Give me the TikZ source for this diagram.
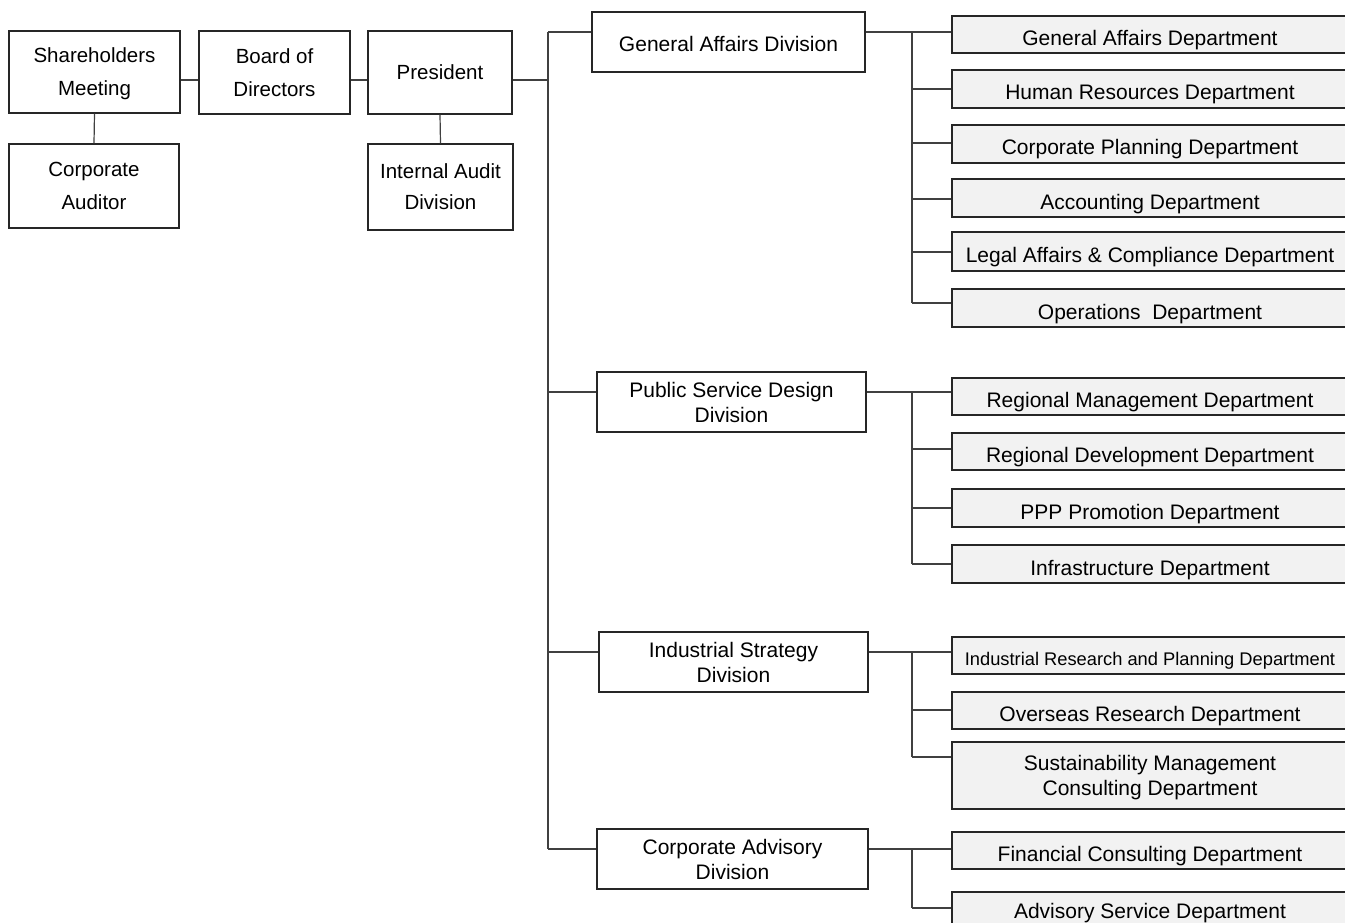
\documentclass[tikz,border=0pt]{standalone}
\usepackage{fontspec}
\setmainfont{Liberation Sans}
\begin{document}
\begin{tikzpicture}[x=1pt,y=-1pt,
  conn/.style={draw=black!75,line width=1.2pt},
  basebox/.style={draw=black!85,line width=1.2pt,rectangle,inner sep=0pt,align=center,text=black,text depth=0pt},
  topbox/.style={basebox,fill=white,font=\fontsize{20.5}{33}\selectfont},
  divbox/.style={basebox,fill=white,font=\fontsize{21}{25}\selectfont},
  deptbox/.style={basebox,fill=black!5,minimum width=396pt,font=\fontsize{21}{25}\selectfont},
  oneline/.style={text height=22pt}]
\clip (0,0) rectangle (1345,923);
\fill[white] (0,0) rectangle (1345,923);
% top level
\node[topbox,minimum width=171pt,minimum height=82pt] (sh) at (94.5,72) {Shareholders\\Meeting};
\node[topbox,minimum width=151pt,minimum height=83pt] (bod) at (274.5,72.5) {Board of\\Directors};
\node[topbox,minimum width=144pt,minimum height=83pt] (pres) at (440,72.5) {President};
\node[topbox,minimum width=170pt,minimum height=84pt] (cau) at (94,186) {Corporate\\Auditor};
\node[topbox,minimum width=145pt,minimum height=86pt,font=\fontsize{20.5}{31}\selectfont] (ia) at (440.5,187) {Internal Audit\\Division};
% divisions
\node[divbox,minimum width=273pt,minimum height=60pt,text height=19pt] (gadiv) at (728.5,42) {General Affairs Division};
\node[divbox,minimum width=269pt,minimum height=60pt] (psdiv) at (731.5,402) {Public Service Design\\Division};
\node[divbox,minimum width=269pt,minimum height=60pt] (isdiv) at (733.5,662) {Industrial Strategy\\Division};
\node[divbox,minimum width=271pt,minimum height=60pt] (cadiv) at (732.5,859) {Corporate Advisory\\Division};
% departments
\node[deptbox,oneline,minimum height=37pt] (d1) at (1150,34.5) {General Affairs Department};
\node[deptbox,oneline,minimum height=38pt] (d2) at (1150,89) {Human Resources Department};
\node[deptbox,oneline,minimum height=38pt] (d3) at (1150,144) {Corporate Planning Department};
\node[deptbox,oneline,minimum height=38pt] (d4) at (1150,198) {Accounting Department};
\node[deptbox,oneline,minimum height=39pt] (d5) at (1150,251.5) {Legal Affairs \& Compliance Department};
\node[deptbox,oneline,minimum height=38pt] (d6) at (1150,308) {Operations\ \ Department};
\node[deptbox,oneline,minimum height=37pt] (p1) at (1150,396.5) {Regional Management Department};
\node[deptbox,oneline,minimum height=37pt] (p2) at (1150,451.5) {Regional Development Department};
\node[deptbox,oneline,minimum height=38pt] (p3) at (1150,508) {PPP Promotion Department};
\node[deptbox,oneline,minimum height=38pt] (p4) at (1150,564) {Infrastructure Department};
\node[deptbox,minimum height=37pt,font=\fontsize{18.3}{22}\selectfont,text height=19pt] (i1) at (1150,655.5) {Industrial Research and Planning Department};
\node[deptbox,oneline,minimum height=37pt] (i2) at (1150,710.5) {Overseas Research Department};
\node[deptbox,minimum height=67pt] (i3) at (1150,775.5) {Sustainability Management\\Consulting Department};
\node[deptbox,oneline,minimum height=37pt] (c1) at (1150,850.5) {Financial Consulting Department};
\node[deptbox,minimum height=37pt,text height=15pt] (c2) at (1150,910.5) {Advisory Service Department};
% junction coordinates
\coordinate (yTop) at (0,80);
\coordinate (tGA) at (548,32);
\coordinate (tPr) at (548,80);
\coordinate (tPS) at (548,392);
\coordinate (tIS) at (548,652);
\coordinate (tCA) at (548,849);
\coordinate (vGA) at (912,32);
\coordinate (vGAe) at (912,303);
\coordinate (vPS) at (912,392);
\coordinate (vPSe) at (912,564);
\coordinate (vIS) at (912,652);
\coordinate (vISe) at (912,757);
\coordinate (vCA) at (912,849);
\coordinate (vCAe) at (912,908);
% top connectors
\draw[conn] (sh.east |- yTop) -- (bod.west |- yTop);
\draw[conn] (bod.east |- yTop) -- (pres.west |- yTop);
\draw[conn] (pres.east |- yTop) -- (tPr);
\draw[conn] (sh.south) -- (cau.north);
\draw[conn] (pres.south) -- (ia.north);
% trunk
\draw[conn] (tGA) -- (tCA);
\draw[conn] (tGA) -- (gadiv.west |- tGA);
\draw[conn] (tPS) -- (psdiv.west |- tPS);
\draw[conn] (tIS) -- (isdiv.west |- tIS);
\draw[conn] (tCA) -- (cadiv.west |- tCA);
% division to departments
\draw[conn] (gadiv.east |- vGA) -- (d1.west |- vGA);
\draw[conn] (vGA) -- (vGAe);
\foreach \d/\yy in {d2/89,d3/143,d4/199,d5/252,d6/303}
  \draw[conn] (912,\yy) -- (\d.west |- 0,\yy);
\draw[conn] (psdiv.east |- vPS) -- (p1.west |- vPS);
\draw[conn] (vPS) -- (vPSe);
\foreach \d/\yy in {p2/449,p3/508,p4/564}
  \draw[conn] (912,\yy) -- (\d.west |- 0,\yy);
\draw[conn] (isdiv.east |- vIS) -- (i1.west |- vIS);
\draw[conn] (vIS) -- (vISe);
\foreach \d/\yy in {i2/710,i3/757}
  \draw[conn] (912,\yy) -- (\d.west |- 0,\yy);
\draw[conn] (cadiv.east |- vCA) -- (c1.west |- vCA);
\draw[conn] (vCA) -- (vCAe);
\draw[conn] (vCAe) -- (c2.west |- vCAe);
\end{tikzpicture}
\end{document}
